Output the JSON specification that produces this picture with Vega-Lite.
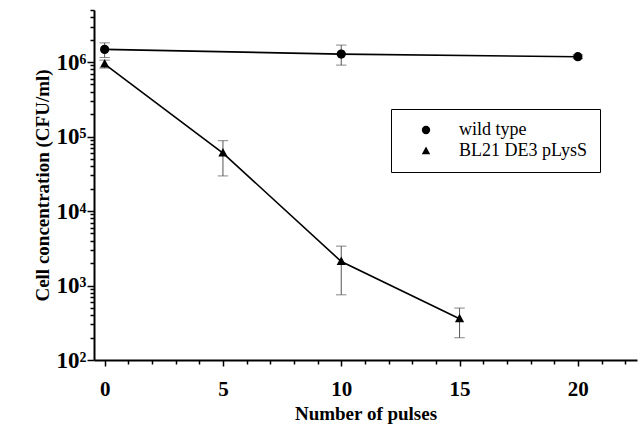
{
  "$schema": "https://vega.github.io/schema/vega-lite/v6.json",
  "width": 543,
  "height": 350,
  "autosize": {"type": "none"},
  "padding": {"left": 94, "top": 10, "right": 4, "bottom": 70},
  "background": "white",
  "config": {
    "view": {"stroke": null},
    "font": "Liberation Serif",
    "axis": {"domainColor": "black", "tickColor": "black", "grid": false, "domainWidth": 2, "tickWidth": 1.5}
  },
  "data": {
    "values": [
      {"series": "wild type", "pulses": 0, "conc": 1480000, "lo": 1150000, "hi": 1810000},
      {"series": "wild type", "pulses": 10, "conc": 1280000, "lo": 910000, "hi": 1690000},
      {"series": "wild type", "pulses": 20, "conc": 1180000, "lo": 1110000, "hi": 1250000},
      {"series": "BL21 DE3 pLysS", "pulses": 0, "conc": 940000, "lo": 830000, "hi": 1060000},
      {"series": "BL21 DE3 pLysS", "pulses": 5, "conc": 60000, "lo": 29600, "hi": 88000},
      {"series": "BL21 DE3 pLysS", "pulses": 10, "conc": 2100, "lo": 750, "hi": 3380},
      {"series": "BL21 DE3 pLysS", "pulses": 15, "conc": 357, "lo": 199, "hi": 498}
    ]
  },
  "resolve": {"axis": {"x": "independent", "y": "independent"}},
  "layer": [
    {
      "mark": {"type": "rule", "color": "#555555", "strokeWidth": 1},
      "encoding": {
        "x": {"field": "pulses", "type": "quantitative", "scale": {"domain": [-0.45, 22.5], "nice": false, "zero": false},
          "axis": {"orient": "bottom", "values": [1,2,3,4,6,7,8,9,11,12,13,14,16,17,18,19,21,22], "labels": false, "domain": false, "tickSize": 4, "title": null}},
        "y": {"field": "lo", "type": "quantitative", "scale": {"type": "log", "domain": [100, 5000000], "nice": false},
          "axis": {"orient": "left", "values": [200,300,400,500,600,700,800,900,2000,3000,4000,5000,6000,7000,8000,9000,20000,30000,40000,50000,60000,70000,80000,90000,200000,300000,400000,500000,600000,700000,800000,900000,2000000,3000000,4000000,5000000], "labels": false, "domain": false, "tickSize": 4, "title": null}},
        "y2": {"field": "hi"}
      }
    },
    {
      "mark": {"type": "point", "shape": "M-1,0H1", "filled": false, "stroke": "#555555", "strokeWidth": 1, "size": 110},
      "encoding": {
        "x": {"field": "pulses", "type": "quantitative", "axis": null},
        "y": {"field": "hi", "type": "quantitative", "axis": null}
      }
    },
    {
      "mark": {"type": "point", "shape": "M-1,0H1", "filled": false, "stroke": "#555555", "strokeWidth": 1, "size": 110},
      "encoding": {
        "x": {"field": "pulses", "type": "quantitative", "axis": null},
        "y": {"field": "lo", "type": "quantitative", "axis": null}
      }
    },
    {
      "mark": {"type": "line", "color": "black", "strokeWidth": 1.6},
      "encoding": {
        "x": {"field": "pulses", "type": "quantitative", "axis": null},
        "y": {"field": "conc", "type": "quantitative", "axis": null},
        "detail": {"field": "series"}
      }
    },
    {
      "mark": {"type": "point", "filled": true, "color": "black", "opacity": 1, "size": 85},
      "encoding": {
        "x": {"field": "pulses", "type": "quantitative",
          "axis": {"orient": "bottom", "values": [0,5,10,15,20], "tickSize": 6, "labelFontSize": 21, "labelFontWeight": "bold", "labelColor": "black", "labelPadding": 12,
            "title": "Number of pulses", "titleFontSize": 19, "titleFontWeight": "bold", "titleColor": "black", "titlePadding": 5}},
        "y": {"field": "conc", "type": "quantitative",
          "axis": {"orient": "left", "values": [100,1000,10000,100000,1000000], "tickSize": 7, "labelFontSize": 23, "labelFontWeight": "bold", "labelColor": "black", "labelPadding": 1,
            "labelExpr": "'10' + (round(log(datum.value)/LN10) == 2 ? '²' : round(log(datum.value)/LN10) == 3 ? '³' : round(log(datum.value)/LN10) == 4 ? '⁴' : round(log(datum.value)/LN10) == 5 ? '⁵' : '⁶')",
            "title": "Cell concentration (CFU/ml)", "titleFontSize": 19, "titleFontWeight": "bold", "titleColor": "black", "titlePadding": 4}},
        "shape": {"field": "series", "type": "nominal", "scale": {"domain": ["wild type", "BL21 DE3 pLysS"], "range": ["circle", "M0,-1.1L1,0.75L-1,0.75Z"]},
          "legend": {"orient": "none", "legendX": 297, "legendY": 99, "title": null, "strokeColor": "black", "padding": 12, "symbolOffset": 14,
            "labelFontSize": 18, "labelColor": "black", "labelOffset": 24, "symbolFillColor": "black", "symbolStrokeColor": "black", "symbolSize": 70, "rowPadding": 3, "fillColor": "white"}}
      }
    }
  ]
}
